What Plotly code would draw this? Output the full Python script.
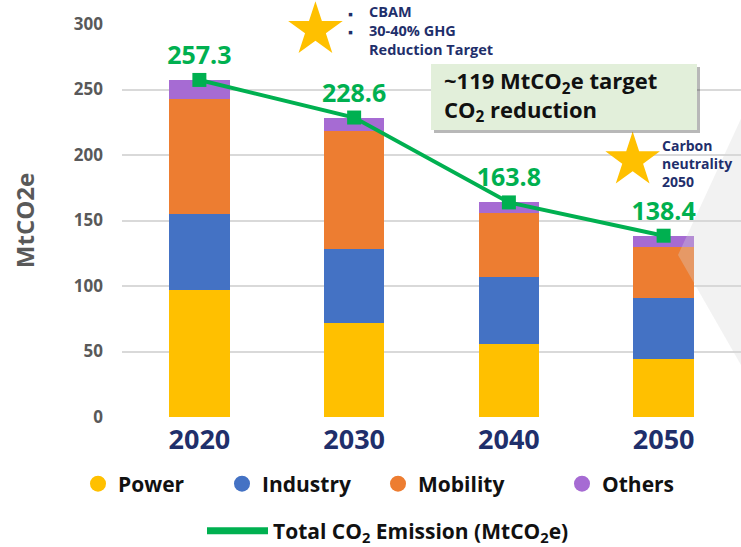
import plotly.graph_objects as go

years = [2020, 2030, 2040, 2050]
power = [97.0, 72.0, 56.0, 44.0]
industry = [58.0, 56.0, 51.0, 47.0]
mobility = [88.0, 90.0, 49.0, 39.0]
others = [14.3, 10.6, 7.8, 8.4]
total = [257.3, 228.6, 163.8, 138.4]
total_labels = ["257.3", "228.6", "163.8", "138.4"]
y_ticks = [0, 50, 100, 150, 200, 250, 300]

sector_names = ["Power", "Industry", "Mobility", "Others"]
sector_colors = ["#FFC000", "#4472C4", "#ED7D31", "#A66BD3"]
sector_values = [power, industry, mobility, others]

FONT = "Open Sans"
W, H = 741, 547
L, R, T, B = 122, 0, 24, 130
PW, PH = W - L - R, H - T - B


def px(x):
    return (x - L) / PW


def py(y):
    return (H - B - y) / PH


fig = go.Figure()

for name, color, vals in zip(sector_names, sector_colors, sector_values):
    fig.add_trace(go.Bar(
        x=years, y=vals, name=name, marker=dict(color=color, line=dict(width=0)),
        width=3.9, showlegend=False, hoverinfo="skip"))

# legend entries (circles), one legend box per entry to match spacing
legend_ids = ["legend", "legend3", "legend4", "legend5"]
legend_starts = [78, 222, 378, 562]
for name, color, lid in zip(sector_names, sector_colors, legend_ids):
    fig.add_trace(go.Scatter(
        x=[None], y=[None], mode="markers", name=name, legend=lid,
        marker=dict(symbol="circle", size=17, color=color)))

fig.add_trace(go.Scatter(
    x=years, y=total, mode="lines+markers+text", text=total_labels,
    textposition="top center",
    textfont=dict(family=FONT, size=25, color="#00B050", weight="bold"),
    line=dict(color="#00B050", width=4),
    marker=dict(symbol="square", size=14, color="#00B050"),
    showlegend=False, cliponaxis=False))

fig.add_trace(go.Scatter(
    x=[None], y=[None], mode="lines", name="Total CO<sub>2</sub> Emission (MtCO<sub>2</sub>e)",
    legend="legend2", line=dict(color="#00B050", width=7)))

# stars
fig.add_trace(go.Scatter(
    x=[2027.5, 2048.0], y=[295.5, 196.0], mode="markers",
    marker=dict(symbol="star", size=41, color="#FFC000", line=dict(width=0)),
    showlegend=False, cliponaxis=False, hoverinfo="skip"))

shapes = [
    # shadow and green box
    dict(type="rect", xref="paper", yref="paper", x0=px(434), x1=px(700), y0=py(133), y1=py(67),
         fillcolor="rgba(0,0,0,0.28)", line=dict(width=0), layer="above"),
    dict(type="rect", xref="paper", yref="paper", x0=px(431), x1=px(697), y0=py(130), y1=py(64),
         fillcolor="#E2EFDA", line=dict(width=0), layer="above"),
    # decorative translucent triangle
    dict(type="path", xref="paper", yref="paper",
         path=f"M {px(678)},{py(255)} L {px(745)},{py(110)} L {px(745)},{py(372)} Z",
         fillcolor="rgba(215,215,215,0.32)", line=dict(width=0), layer="above"),
]

annotations = [
    dict(xref="paper", yref="paper", x=px(442), y=py(96.5), xanchor="left", yanchor="middle",
         text="~119 MtCO<sub>2</sub>e target<br>CO<sub>2</sub> reduction", align="left", showarrow=False,
         font=dict(family=FONT, size=22, color="#111111", weight="bold")),
    dict(xref="paper", yref="paper", x=px(350), y=py(22), xanchor="center", yanchor="middle",
         text="▪<br>▪", align="center", showarrow=False,
         font=dict(family=FONT, size=14, color="#1F2F6B", weight="bold")),
    dict(xref="paper", yref="paper", x=px(367), y=py(30.5), xanchor="left", yanchor="middle",
         text="CBAM<br>30-40% GHG<br>Reduction Target", align="left", showarrow=False,
         font=dict(family=FONT, size=14.5, color="#1F2F6B", weight="bold")),
    dict(xref="paper", yref="paper", x=px(660), y=py(163.5), xanchor="left", yanchor="middle",
         text="Carbon<br>neutrality<br>2050", align="left", showarrow=False,
         font=dict(family=FONT, size=14, color="#1F2F6B", weight="bold")),
]

legend_font = dict(family=FONT, size=21, color="#111111", weight="bold")
legend_layouts = {}
for lid, start in zip(legend_ids, legend_starts):
    legend_layouts[lid] = dict(orientation="h", x=px(start), y=py(484), xanchor="left", yanchor="middle",
                               font=legend_font, bgcolor="rgba(0,0,0,0)",
                               itemclick=False, itemdoubleclick=False)
legend_layouts["legend2"] = dict(orientation="h", x=px(202), y=py(531), xanchor="left", yanchor="middle",
                                 itemwidth=61, font=legend_font, bgcolor="rgba(0,0,0,0)",
                                 itemclick=False, itemdoubleclick=False)

fig.update_layout(
    width=W, height=H,
    margin=dict(l=L, r=R, t=T, b=B, autoexpand=False),
    paper_bgcolor="white", plot_bgcolor="white",
    barmode="stack",
    font=dict(family=FONT),
    shapes=shapes,
    annotations=annotations,
    xaxis=dict(range=[2015, 2055], tickvals=years, ticktext=[str(y) for y in years],
               showgrid=False, zeroline=False, showline=False, ticks="",
               ticklabelstandoff=4, automargin=False,
               tickfont=dict(family=FONT, size=27, color="#1F2F6B", weight="bold")),
    yaxis=dict(range=[0, 300], tickvals=y_ticks, showgrid=True, gridcolor="#D9D9D9", gridwidth=1.5,
               zeroline=False, showline=False, ticks="", ticklabelstandoff=18, automargin=False,
               tickfont=dict(family=FONT, size=17, color="#595959", weight="bold"),
               title=dict(text="MtCO2e", standoff=32,
                          font=dict(family=FONT, size=24, color="#595959", weight="bold"))),
    **legend_layouts,
)

fig.write_html("out.html", config={"displayModeBar": False},
               post_script="document.body.style.margin='0px';")
